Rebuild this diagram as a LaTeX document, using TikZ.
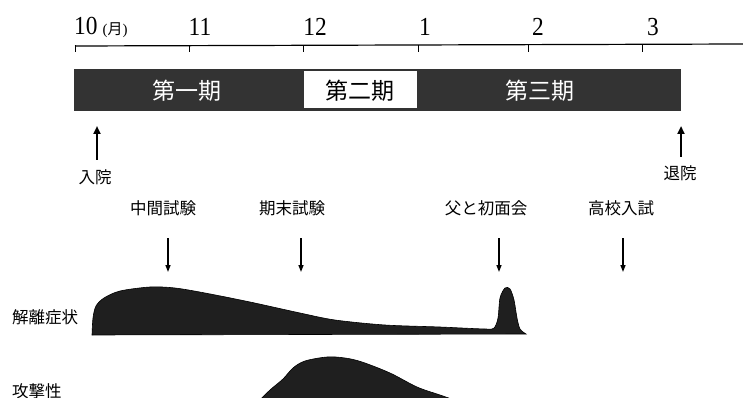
\documentclass[tikz,border=0pt]{standalone}
\usepackage{fontspec}
\setmainfont{Liberation Serif}
\newfontfamily\jp{Noto Sans CJK JP}
\usetikzlibrary{arrows.meta}
\newcommand{\mnum}[1]{\scalebox{0.9}[1]{\fontsize{26}{28}\selectfont #1}}
\begin{document}
\begin{tikzpicture}[x=1pt,y=-1pt,
  month/.style={inner sep=0pt},
  phase/.style={font=\jp\fontsize{23}{25}\selectfont, inner sep=0pt},
  lbl/.style={font=\jp\fontsize{16.5}{18}\selectfont, inner sep=0pt},
  upar/.style={line width=2.4pt, -{Triangle[length=8pt,width=7pt]}},
  dnar/.style={line width=1.4pt, -{Triangle[length=7pt,width=5pt]}},
  blob/.style={fill=black!88, draw=black, line width=0.6pt},
  tick/.style={line width=1pt}]
\fill[white] (0,0) rectangle (743,398);
\useasboundingbox (0,0) rectangle (743,398);
% month labels
\node[month, anchor=west] (m10) at (74,27) {\mnum{10}\hspace{5pt}{\fontsize{15}{16}\selectfont({\jp 月})}};
\node[month] (m11) at (200,27) {\mnum{11}};
\node[month] (m12) at (315,27) {\mnum{12}};
\node[month] (m1) at (425,27) {\mnum{1}};
\node[month] (m2) at (538,27) {\mnum{2}};
\node[month] (m3) at (653,27) {\mnum{3}};
% axis
\coordinate (ax0) at (75,46);
\coordinate (ax1) at (743,44);
\draw[line width=1.2pt] (ax0) -- (ax1);
\foreach \x in {75,189,303,418,528,642} \draw[tick] (\x,45.5) -- (\x,52);
% phase bar
\fill[black!80] (74,69) rectangle (681,111);
\fill[white] (304,71.5) rectangle (417,108.5);
\node[phase, text=white] (p1) at (187,91) {第一期};
\node[phase] (p2) at (360,91) {第二期};
\node[phase, text=white] (p3) at (540,91) {第三期};
% admission / discharge
\node[lbl] (in) at (95,177) {入院};
\node[lbl] (out) at (680,173) {退院};
\coordinate (in0) at (97,160);
\coordinate (in1) at (97,126);
\coordinate (out0) at (681,157);
\coordinate (out1) at (681,126);
\draw[upar] (in0) -- (in1);
\draw[upar] (out0) -- (out1);
% events
\node[lbl] (e1) at (163,208) {中間試験};
\node[lbl] (e2) at (292,208) {期末試験};
\node[lbl] (e3) at (486,208) {父と初面会};
\node[lbl] (e4) at (621,208) {高校入試};
\foreach \n/\x in {1/168,2/301,3/499,4/623}{
  \coordinate (d\n a) at (\x,238);
  \coordinate (d\n b) at (\x,272);
  \draw[dnar] (d\n a) -- (d\n b);
}
% rows
\node[lbl, anchor=west] (r1) at (12,317) {解離症状};
\node[lbl, anchor=west] (r2) at (12,391) {攻撃性};
\fill[blob] plot[smooth, tension=0.5] coordinates {(92,335) (93,318) (96,306) (104,298) (120,291) (150,287) (175,288) (205,293) (250,302) (300,313) (335,320) (385,325) (440,327) (485,329) (494,328) (498,318) (500,298) (505,288) (510,289) (514,300) (517,318) (520,329) (526,334)} -- cycle;
\fill[blob] plot[smooth, tension=0.55] coordinates {(258,402) (270,390) (283,379) (293,368) (305,361) (327,357) (345,358) (362,362) (390,373) (417,387) (440,395) (460,402)} -- cycle;
\end{tikzpicture}
\end{document}
